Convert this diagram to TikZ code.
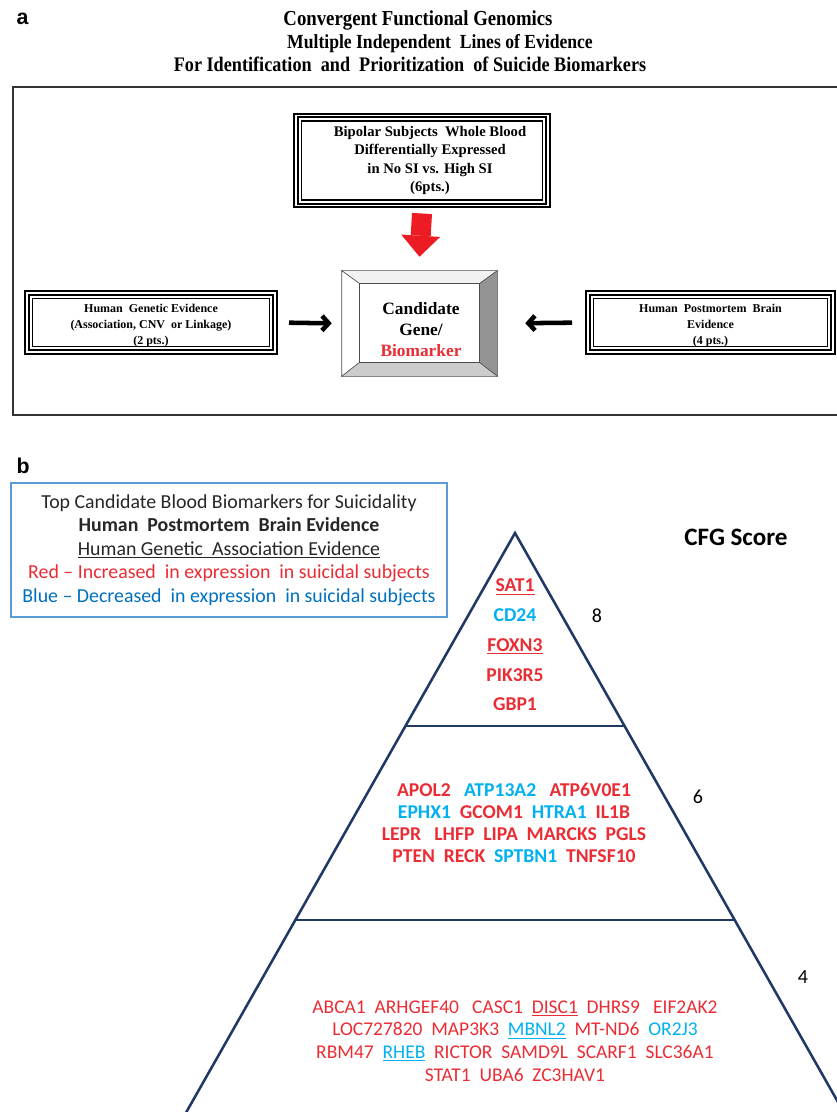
\documentclass[tikz,border=0pt]{standalone}
\usepackage{fontspec}
\setmainfont{Liberation Serif}
\newfontfamily\calibri{Carlito}
\newfontfamily\arial{Liberation Sans}
\newfontfamily\narrow[FakeStretch=0.88]{Liberation Serif}
\usetikzlibrary{arrows.meta,calc}

\definecolor{genered}{RGB}{234,45,52}
\definecolor{geneblue}{RGB}{0,176,240}
\definecolor{legblue}{RGB}{0,112,192}
\definecolor{legframe}{RGB}{91,155,213}
\definecolor{pyrnavy}{RGB}{31,56,100}
\definecolor{arrowred}{RGB}{237,28,36}

\newcommand{\up}[1]{\textcolor{genered}{#1}}
\newcommand{\dn}[1]{\textcolor{geneblue}{#1}}

\begin{document}
\begin{tikzpicture}[x=0.75pt,y=-0.75pt,
    panel/.style={font=\arial\bfseries\fontsize{16}{18}\selectfont, anchor=base west},
    evbox/.style={draw, line width=1.5pt, double, double distance=0.8pt, align=center},
    redarrow/.style={draw=arrowred, line width=15pt, -{Triangle[width=29.25pt,length=15.75pt,line width=0pt]}},
    blkarrow/.style={line width=3.4pt, -{Straight Barb[length=5pt,width=11pt]}},
    legend/.style={draw=legframe, line width=0.8pt, minimum width=327pt, minimum height=100.5pt,
        align=center, text=black!85, font=\calibri\fontsize{14.9}{17.6}\selectfont},
    pyr/.style={draw=pyrnavy, line width=1.9pt},
    score/.style={font=\calibri\fontsize{15}{17}\selectfont},
    genes/.style={align=center, text=genered}]

\useasboundingbox (0,0) rectangle (837,1112);

% panel a
\node[panel] (labA) at (12,25) {a};
\node[anchor=base, font=\narrow\bfseries\fontsize{16}{18}\selectfont] (title) at (418,26) {Convergent Functional Genomics};
\node[anchor=base, font=\narrow\bfseries\fontsize{15}{16}\selectfont] (sub1) at (440,49) {Multiple Independent\ \ Lines of Evidence};
\node[anchor=base, font=\narrow\bfseries\fontsize{15.5}{16}\selectfont] (sub2) at (410,72) {For Identification\ \ and\ \ Prioritization\ \ of Suicide Biomarkers};

\draw[line width=2pt, black!80] (13,87) rectangle (850,415);

\node[evbox, minimum width=189pt, minimum height=67.5pt, font=\bfseries\fontsize{11}{13.9}\selectfont] (blood) at (422,160.5)
    {\hspace*{12pt}Bipolar Subjects\ \ Whole Blood\\\hspace*{12pt}Differentially\ Expressed\\\hspace*{12pt}in No SI vs. High\ SI\\\hspace*{12pt}(6pts.)};
\node[evbox, minimum width=186pt, minimum height=44.25pt, font=\bfseries\fontsize{9}{12}\selectfont] (genetic) at (151,322.5)
    {\rule{0pt}{10.5pt}Human\ \ Genetic Evidence\\(Association, CNV\ \ or Linkage)\\(2 pts.)};
\node[evbox, minimum width=183.75pt, minimum height=44.25pt, font=\bfseries\fontsize{9}{12}\selectfont] (brain) at (710.5,322.5)
    {\rule{0pt}{10.5pt}Human\ \ Postmortem\ \ Brain\\Evidence\\(4 pts.)};
\foreach \b in {blood,genetic,brain}
    \draw[line width=1pt] ([shift={(6.5,6.5)}]\b.north west) rectangle ([shift={(-6.5,-6.5)}]\b.south east);

% bevelled candidate box
\node[minimum width=116.25pt, minimum height=78.75pt, inner sep=0pt] (cand) at (419.5,323.5) {};
\coordinate (inw) at ([shift={(18,13)}]cand.north west);
\coordinate (ine) at ([shift={(-18,13)}]cand.north east);
\coordinate (ise) at ([shift={(-18,-14)}]cand.south east);
\coordinate (isw) at ([shift={(18,-14)}]cand.south west);
\filldraw[draw=black!70, fill=black!5] (cand.north west) -- (cand.north east) -- (ine) -- (inw) -- cycle;
\filldraw[draw=black!70, fill=white] (cand.north west) -- (inw) -- (isw) -- (cand.south west) -- cycle;
\filldraw[draw=black!70, fill=black!42] (cand.north east) -- (cand.south east) -- (ise) -- (ine) -- cycle;
\filldraw[draw=black!70, fill=black!20] (cand.south west) -- (isw) -- (ise) -- (cand.south east) -- cycle;
\filldraw[draw=black!70, fill=white] (inw) rectangle (ise);
\node[align=center, font=\bfseries\fontsize{13}{15.75}\selectfont] (candtext) at (421,330)
    {Candidate\\Gene/\\\textcolor{genered}{Biomarker}};

\draw[redarrow] ([shift={(0,7)}]blood.south) -- ([shift={(0,-14)}]cand.north);
\draw[blkarrow, shorten <=9.75pt, shorten >=7.5pt] (genetic.east) -- (cand.west);
\draw[blkarrow, shorten <=11.25pt, shorten >=21pt] (brain.west) -- (cand.east);

% panel b
\node[panel] (labB) at (12,473) {b};
\node[legend] (legend) at (229,550)
    {Top Candidate Blood Biomarkers for Suicidality\\
     \textbf{Human\ \ Postmortem\ \ Brain Evidence}\\
     \underline{Human Genetic\ \ Association Evidence}\\
     \textcolor{genered}{Red – Increased\ \ in expression\ \ in suicidal subjects}\\
     \textcolor{legblue}{Blue – Decreased\ \ in expression\ \ in suicidal subjects}};
\node[font=\calibri\bfseries\fontsize{18.8}{21}\selectfont] (cfg) at (736,537) {CFG Score};

\coordinate (apex) at (515,533);
\coordinate (lfoot) at (179,1125);
\coordinate (rfoot) at (851,1125);
\draw[pyr] (lfoot) -- (apex) -- (rfoot);
\draw[pyr] ($(apex)!0.326!(lfoot)$) -- ($(apex)!0.326!(rfoot)$);
\draw[pyr] ($(apex)!0.6537!(lfoot)$) -- ($(apex)!0.6537!(rfoot)$);

\node[score] (s8) at (597,616) {8};
\node[score] (s6) at (698,797) {6};
\node[score] (s4) at (803,977) {4};

\node[genes, font=\calibri\bfseries\fontsize{14.7}{22.3}\selectfont] (tier8) at (515,645)
    {\underline{SAT1}\\\dn{CD24}\\\underline{FOXN3}\\PIK3R5\\GBP1};
\node[genes, font=\calibri\bfseries\fontsize{14.7}{16.5}\selectfont] (tier6) at (514,823)
    {APOL2\ \ \ \dn{ATP13A2}\ \ \ ATP6V0E1\\
     \dn{EPHX1}\ \ GCOM1\ \ \dn{HTRA1}\ \ IL1B\\
     LEPR\ \ \ LHFP\ \ LIPA\ \ MARCKS\ \ PGLS\\
     PTEN\ \ RECK\ \ \dn{SPTBN1}\ \ TNFSF10};
\node[genes, font=\calibri\fontsize{14.6}{16.9}\selectfont] (tier4) at (515,1041)
    {ABCA1\ \ ARHGEF40\ \ \ CASC1\ \ \underline{DISC1}\ \ DHRS9\ \ \ EIF2AK2\\
     LOC727820\ \ MAP3K3\ \ \dn{\underline{MBNL2}}\ \ MT-ND6\ \ \dn{OR2J3}\\
     RBM47\ \ \dn{\underline{RHEB}}\ \ RICTOR\ \ SAMD9L\ \ SCARF1\ \ SLC36A1\\
     STAT1\ \ UBA6\ \ ZC3HAV1};
\end{tikzpicture}
\end{document}
